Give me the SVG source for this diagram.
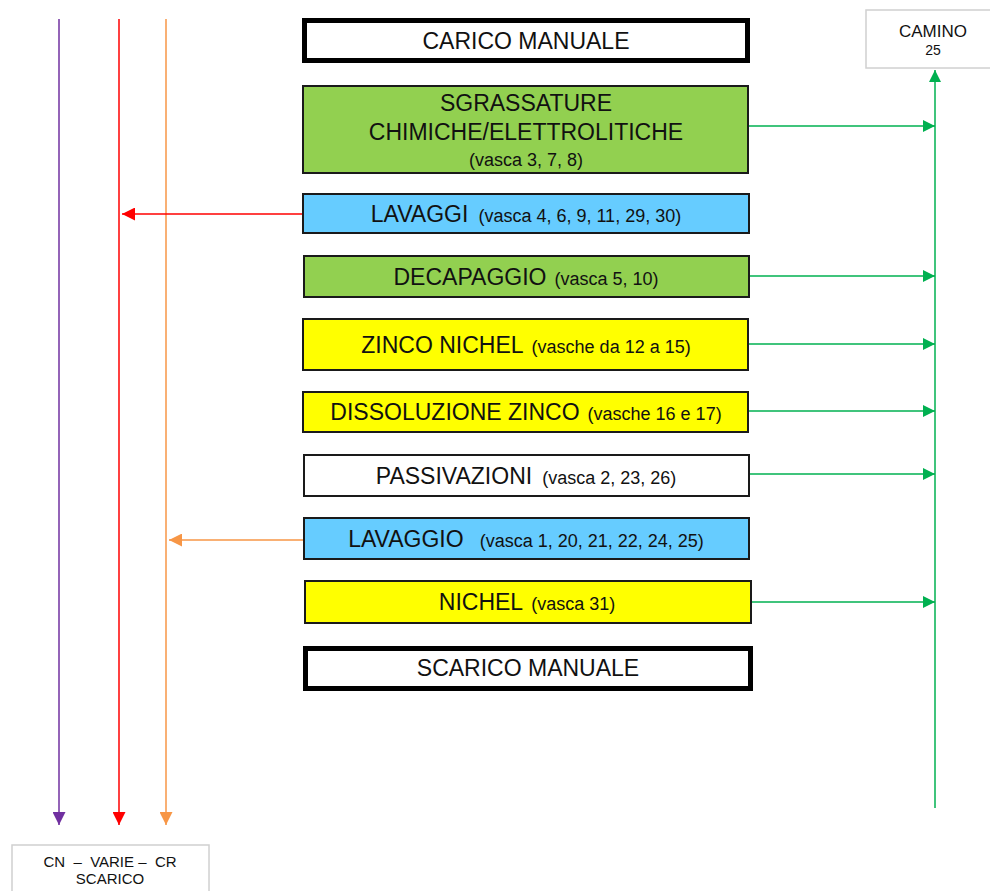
<svg xmlns="http://www.w3.org/2000/svg" width="990" height="891" viewBox="0 0 990 891">
<style>
text{font-family:"Liberation Sans",Arial,sans-serif;fill:#111;text-anchor:middle}
.m{font-size:23px}
.s{font-size:18px}
.box{stroke:#1a1a1a;stroke-width:2}
.thick{fill:#fff;stroke:#000;stroke-width:5}
.grey{fill:#fff;stroke:#d0d0d0;stroke-width:1.5}
.g{fill:#92D050}.y{fill:#FFFF00}.b{fill:#66CCFF}.w{fill:#fff}
.cg{stroke:#00B050;stroke-width:1.5;fill:none}
</style>
<defs>
<marker id="ag" viewBox="0 0 10 10" refX="10" refY="5" markerWidth="12" markerHeight="12" markerUnits="userSpaceOnUse" orient="auto"><path d="M0,0L10,5L0,10z" fill="#00B050"/></marker>
<marker id="ar" viewBox="0 0 10 10" refX="10" refY="5" markerWidth="13" markerHeight="13" markerUnits="userSpaceOnUse" orient="auto"><path d="M0,0L10,5L0,10z" fill="#FF0000"/></marker>
<marker id="ao" viewBox="0 0 10 10" refX="10" refY="5" markerWidth="13" markerHeight="13" markerUnits="userSpaceOnUse" orient="auto"><path d="M0,0L10,5L0,10z" fill="#F79646"/></marker>
<marker id="ap" viewBox="0 0 10 10" refX="10" refY="5" markerWidth="13" markerHeight="13" markerUnits="userSpaceOnUse" orient="auto"><path d="M0,0L10,5L0,10z" fill="#7030A0"/></marker>
</defs>

<g id="connectors">
<line x1="59" y1="19" x2="59" y2="825" stroke="#7030A0" stroke-width="1.5" marker-end="url(#ap)"/>
<line x1="119" y1="19" x2="119" y2="825" stroke="#FF0000" stroke-width="1.5" marker-end="url(#ar)"/>
<line x1="166" y1="19" x2="166" y2="825" stroke="#F79646" stroke-width="1.5" marker-end="url(#ao)"/>
<line x1="302" y1="214" x2="122" y2="214" stroke="#FF0000" stroke-width="1.5" marker-end="url(#ar)"/>
<line x1="304" y1="540" x2="169" y2="540" stroke="#F79646" stroke-width="1.5" marker-end="url(#ao)"/>
<line class="cg" x1="935" y1="808" x2="935" y2="70" marker-end="url(#ag)"/>
<line class="cg" x1="749" y1="126" x2="935" y2="126" marker-end="url(#ag)"/>
<line class="cg" x1="749" y1="276" x2="935" y2="276" marker-end="url(#ag)"/>
<line class="cg" x1="749" y1="344" x2="935" y2="344" marker-end="url(#ag)"/>
<line class="cg" x1="749" y1="411" x2="935" y2="411" marker-end="url(#ag)"/>
<line class="cg" x1="749" y1="474" x2="935" y2="474" marker-end="url(#ag)"/>
<line class="cg" x1="751" y1="602" x2="935" y2="602" marker-end="url(#ag)"/>
</g>

<g id="carico">
<rect class="thick" x="304.5" y="20.5" width="443" height="40"/>
<text class="m" x="526" y="49">CARICO MANUALE</text>
</g>

<g id="sgrassature">
<rect class="box g" x="303" y="86" width="445" height="87"/>
<text class="m" x="526" y="111">SGRASSATURE</text>
<text class="m" x="526" y="140">CHIMICHE/ELETTROLITICHE</text>
<text class="s" x="526" y="166">(vasca 3, 7, 8)</text>
</g>

<g id="lavaggi">
<rect class="box b" x="303" y="194" width="446" height="39"/>
<text x="526" y="222"><tspan class="m">LAVAGGI</tspan><tspan class="s" dx="10">(vasca 4, 6, 9, 11, 29, 30)</tspan></text>
</g>

<g id="decapaggio">
<rect class="box g" x="304" y="256" width="445" height="41"/>
<text x="526" y="285"><tspan class="m">DECAPAGGIO</tspan><tspan class="s" dx="8">(vasca 5, 10)</tspan></text>
</g>

<g id="zinco-nichel">
<rect class="box y" x="303" y="319" width="445" height="51"/>
<text x="526" y="353"><tspan class="m">ZINCO NICHEL</tspan><tspan class="s" dx="8">(vasche da 12 a 15)</tspan></text>
</g>

<g id="dissoluzione">
<rect class="box y" x="303" y="392" width="445" height="40"/>
<text x="526" y="420"><tspan class="m">DISSOLUZIONE ZINCO</tspan><tspan class="s" dx="8">(vasche 16 e 17)</tspan></text>
</g>

<g id="passivazioni">
<rect class="box w" x="304" y="455" width="445" height="41"/>
<text x="526" y="484"><tspan class="m">PASSIVAZIONI</tspan><tspan class="s" dx="10">(vasca 2, 23, 26)</tspan></text>
</g>

<g id="lavaggio">
<rect class="box b" x="304" y="518" width="445" height="41"/>
<text x="526" y="547"><tspan class="m">LAVAGGIO</tspan><tspan class="s" dx="16">(vasca 1, 20, 21, 22, 24, 25)</tspan></text>
</g>

<g id="nichel">
<rect class="box y" x="305" y="581" width="446" height="42"/>
<text x="527" y="610"><tspan class="m">NICHEL</tspan><tspan class="s" dx="8">(vasca 31)</tspan></text>
</g>

<g id="scarico">
<rect class="thick" x="305.5" y="648.5" width="445" height="40"/>
<text class="m" x="528" y="676">SCARICO MANUALE</text>
</g>

<g id="camino">
<rect class="grey" x="866" y="10" width="140" height="58"/>
<text x="933" y="37" font-size="17">CAMINO</text>
<text x="933" y="55" font-size="14">25</text>
</g>

<g id="cn-scarico">
<rect class="grey" x="12" y="845" width="197" height="60"/>
<text x="110" y="867" font-size="15" xml:space="preserve">CN  –  VARIE –  CR</text>
<text x="110" y="884" font-size="15">SCARICO</text>
</g>
</svg>
